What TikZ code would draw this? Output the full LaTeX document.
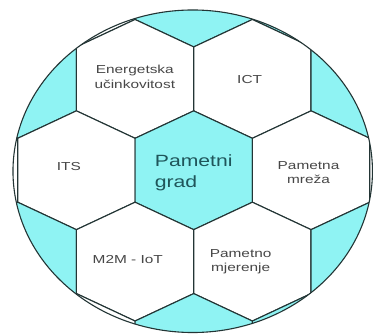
\documentclass[tikz,border=0pt]{standalone}
\usepackage{fontspec}
\setmainfont{Liberation Sans}
\usepackage{xcolor}
\definecolor{cyanish}{HTML}{8FF3F3}
\definecolor{edgeish}{HTML}{233535}
\definecolor{textish}{HTML}{474747}
\definecolor{tealish}{HTML}{1F555A}
\newcommand{\hexcell}[3]{\filldraw[fill=#3] ({#1+58.75},{#2-32}) -- (#1,{#2-59.5}) -- ({#1-58.75},{#2-32}) -- ({#1-58.75},{#2+32}) -- (#1,{#2+59.5}) -- ({#1+58.75},{#2+32}) -- cycle;}

\begin{document}
\begin{tikzpicture}[x=1pt,y=-1pt,
    lbl/.style={font=\fontsize{11.6}{14.5}\selectfont,text=textish,align=center,xscale=1.33},
    hub/.style={font=\fontsize{16.3}{21.5}\selectfont,text=tealish,align=left,xscale=1.3}]
        \fill[white] (0,0) rectangle (373,334);
        \begin{scope}[draw=edgeish,line width=1.1pt]
        \clip (193,171.5) ellipse (180 and 161.5);
        \hexcell{76.5}{-12.5}{white}
        \hexcell{194}{-12.5}{cyanish}
        \hexcell{311.5}{-12.5}{cyanish}
        \hexcell{17.75}{79}{cyanish}
        \hexcell{135.25}{79}{white}
        \hexcell{252.75}{79}{white}
        \hexcell{370.25}{79}{cyanish}
        \hexcell{-41}{170.5}{white}
        \hexcell{76.5}{170.5}{white}
        \hexcell{194}{170.5}{cyanish}
        \hexcell{311.5}{170.5}{white}
        \hexcell{429}{170.5}{white}
        \hexcell{17.75}{262}{cyanish}
        \hexcell{135.25}{262}{white}
        \hexcell{252.75}{262}{white}
        \hexcell{370.25}{262}{cyanish}
        \hexcell{76.5}{353.5}{white}
        \hexcell{194}{353.5}{cyanish}
        \hexcell{311.5}{353.5}{cyanish}
        \end{scope}
        \draw[edgeish,line width=1.1pt] (193,171.5) ellipse (180 and 161.5);
        \node[lbl] (energy) at (135,77) {Energetska\\učinkovitost};
        \node[lbl] (ict) at (250,80) {ICT};
        \node[lbl] (its) at (69,167) {ITS};
        \node[hub] (grad) at (194,173) {Pametni\\grad};
        \node[lbl] (mreza) at (309,173) {Pametna\\mreža};
        \node[lbl] (iot) at (128,260) {M2M - IoT};
        \node[lbl] (mjerenje) at (241,262) {Pametno\\mjerenje};
    \end{tikzpicture}
\end{document}
